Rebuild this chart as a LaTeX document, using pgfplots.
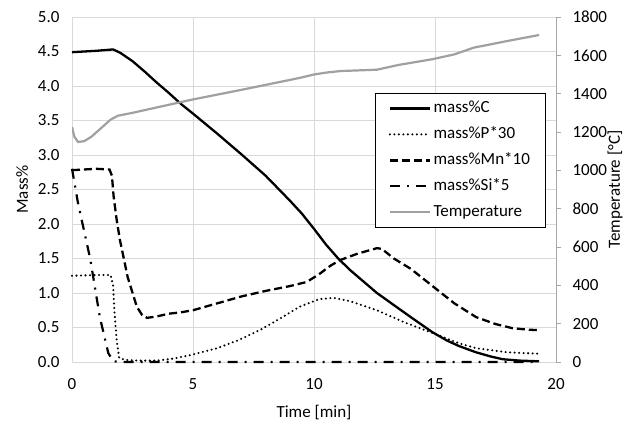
\documentclass[border=0pt]{standalone}
\usepackage{fontspec}
\setmainfont{Carlito}
\usepackage{pgfplots}
\pgfplotsset{compat=1.18}

\definecolor{gridgray}{RGB}{217,217,217}
\definecolor{axgray}{RGB}{166,166,166}
\definecolor{tempgray}{RGB}{160,160,160}

\tikzset{
  cline/.style={black, line width=2.3pt},
  pline/.style={black, line width=2.3pt, dash pattern=on 0pt off 4.5pt, line cap=round},
  mnline/.style={black, line width=2.3pt, dash pattern=on 8pt off 4pt},
  siline/.style={black, line width=2.2pt, dash pattern=on 10pt off 7pt on 2pt off 7pt},
  tline/.style={tempgray, line width=2.2pt},
}

\pgfplotsset{
  chart/.style={
    scale only axis, width=484pt, height=345pt,
    xmin=0, xmax=20,
    /pgf/number format/assume math mode=true,
    /pgf/number format/1000 sep={},
    tick label style={font=\fontsize{17}{20}\selectfont},
    label style={font=\fontsize{17}{20}\selectfont},
  }
}

\begin{document}
\begin{tikzpicture}
% left axis: mass%
\begin{axis}[chart,
  ymin=0, ymax=5,
  xtick={0,5,...,20}, ytick={0,0.5,...,5},
  grid=major, major grid style={draw=gridgray, line width=0.9pt},
  axis line style={draw=gridgray, line width=0.9pt},
  tick style={draw=none},
  yticklabel style={xshift=-9pt, /pgf/number format/fixed, /pgf/number format/fixed zerofill, /pgf/number format/precision=1},
  xticklabel style={yshift=-13pt},
  xlabel={Time [min]}, ylabel={Mass\%},
  xlabel style={at={(axis description cs:0.5,-0.145)}, anchor=center},
  ylabel style={at={(axis description cs:-0.103,0.5)}, anchor=center},
  clip=false,
]
% mass%C
\addplot[cline] coordinates {(0,4.49) (0.5,4.50) (1.0,4.51) (1.7,4.53) (2.0,4.48) (2.5,4.36) (3.0,4.21) (3.5,4.05) (4.0,3.90) (4.5,3.74) (5.0,3.60) (6.0,3.31) (7.0,3.01) (8.0,2.70) (9.0,2.34) (9.5,2.15) (10.0,1.93) (10.5,1.70) (11.0,1.50) (11.5,1.33) (12.0,1.18) (12.6,1.00) (13.2,0.85) (14.0,0.65) (14.9,0.43) (15.5,0.31) (16.0,0.23) (16.7,0.14) (17.3,0.08) (17.8,0.04) (18.5,0.02) (19.3,0.01)};
% mass%P*30
\addplot[pline] coordinates {(0,1.25) (1.0,1.26) (1.6,1.26) (1.7,1.10) (1.75,0.75) (1.85,0.30) (1.95,0.06) (2.2,0.03) (2.8,0.02) (3.5,0.02) (4.2,0.05) (4.9,0.10) (6.0,0.20) (6.9,0.32) (7.8,0.47) (8.7,0.65) (9.4,0.80) (10.2,0.91) (10.8,0.93) (11.5,0.88) (12.6,0.75) (13.7,0.58) (14.9,0.42) (16.0,0.27) (16.7,0.20) (18.0,0.14) (19.3,0.12)};
% mass%Mn*10
\addplot[mnline] coordinates {(0,2.78) (0.5,2.79) (1.0,2.80) (1.55,2.79) (1.65,2.70) (1.72,2.40) (1.85,2.05) (1.98,1.77) (2.3,1.23) (2.68,0.80) (2.9,0.68) (3.1,0.64) (3.5,0.66) (4.0,0.70) (4.5,0.72) (5.0,0.75) (6.0,0.85) (7.0,0.95) (8.0,1.03) (9.0,1.10) (9.7,1.16) (10.2,1.27) (10.7,1.40) (11.1,1.48) (11.8,1.57) (12.6,1.65) (12.8,1.64) (13.3,1.50) (14.0,1.35) (14.9,1.10) (15.8,0.85) (16.7,0.65) (17.5,0.55) (18.2,0.49) (18.8,0.47) (19.3,0.46)};
% mass%Si*5
\addplot[siline] coordinates {(0,2.80) (0.25,2.30) (0.75,1.50) (1.15,0.65) (1.5,0.13) (1.7,0.01) (2.0,0) (19.3,0)};
\end{axis}

% right axis: temperature
\begin{axis}[chart,
  ymin=0, ymax=1800,
  axis x line=none, axis y line*=right,
  ytick={0,200,...,1800},
  axis line style={draw=axgray, line width=0.9pt},
  tick align=outside, major tick length=5pt,
  tick style={draw=axgray, line width=0.9pt},
  yticklabel style={xshift=8pt},
  ylabel={Temperature [°C]},
  ylabel style={at={(axis description cs:1.122,0.5)}, anchor=center},
  legend style={at={(axis description cs:0.979,0.780)}, anchor=north east,
    draw=black, line width=0.9pt, fill=white,
    font=\fontsize{17}{20}\selectfont,
    inner xsep=13pt, inner ysep=2pt, row sep=0pt,
    nodes={inner xsep=2.5pt, inner ysep=5pt, text height=12pt, text depth=4pt},
    /tikz/every odd column/.append style={column sep=0pt},
    /tikz/every even column/.append style={column sep=0pt}},
  legend cell align=left,
  legend image code/.code={\draw[#1] (0pt,0pt) -- (40pt,0pt);},
  every legend image post/.append style={},
]
\addlegendimage{cline}
\addlegendentry[fill=white, draw=none]{mass\%C}
\addlegendimage{pline}
\addlegendentry[fill=white, draw=none]{mass\%P*30}
\addlegendimage{mnline}
\addlegendentry[fill=white, draw=none]{mass\%Mn*10}
\addlegendimage{siline}
\addlegendentry[fill=white, draw=none]{mass\%Si*5}
\addplot[tline] coordinates {(0,1226) (0.1,1175) (0.25,1148) (0.5,1152) (0.8,1175) (1.2,1220) (1.6,1265) (1.9,1285) (2.5,1300) (5,1370) (7,1420) (9.4,1482) (10,1500) (10.5,1510) (11.1,1518) (12.6,1525) (13.5,1550) (14.9,1580) (15.8,1605) (16.6,1640) (18,1675) (19.3,1706)};
\addlegendentry[fill=white, draw=none]{Temperature}
\end{axis}
\pgfresetboundingbox
\path[use as bounding box] (-72pt,-61pt) rectangle (559pt,362pt);
\end{tikzpicture}
\end{document}
